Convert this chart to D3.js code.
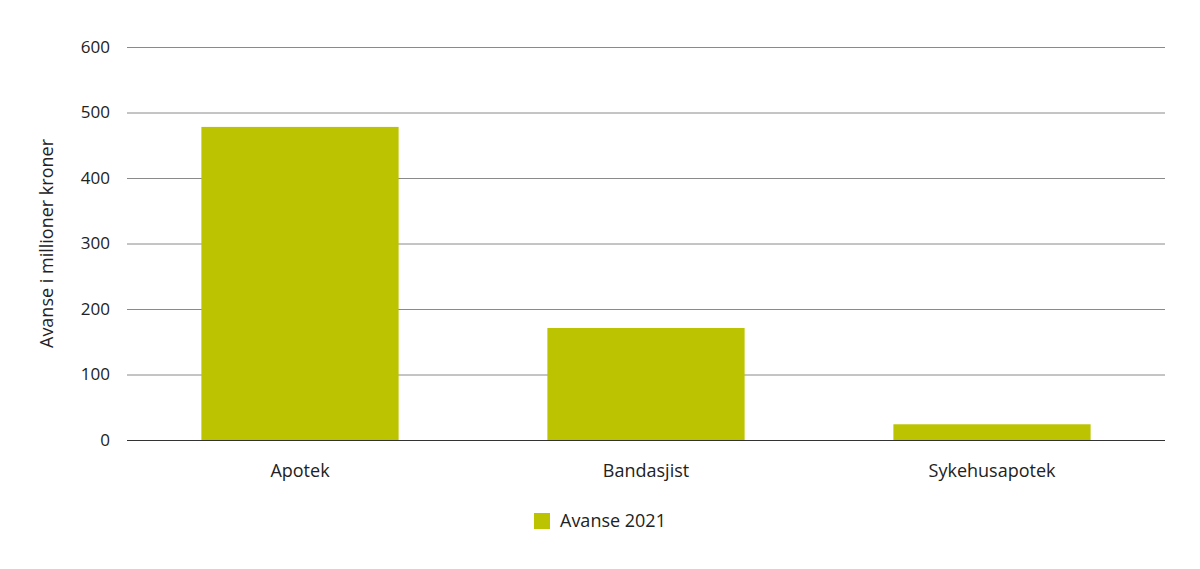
<!DOCTYPE html>
<html>
<head>
<meta charset="utf-8">
<script src="https://cdn.jsdelivr.net/npm/d3@7"></script>
<style>
  body { margin: 0; background: #fff; }
  svg { display: block; font-family: "Open Sans", "Noto Sans", sans-serif; }
</style>
</head>
<body>
<svg width="1200" height="569"></svg>
<script>
// data
var categories = ["Apotek", "Bandasjist", "Sykehusapotek"];
var values = [478, 171, 24];
var yTicks = [0, 100, 200, 300, 400, 500, 600];
var seriesName = "Avanse 2021";
var yLabel = "Avanse i millioner kroner";

var svg = d3.select("svg");
var plotLeft = 127, plotRight = 1165, plotTop = 47, plotBottom = 440;
var barColor = "rgb(188,195,0)";

var x = d3.scaleBand()
  .domain(categories)
  .range([plotLeft, plotRight])
  .paddingInner(0.43)
  .paddingOuter(0.215);

var y = d3.scaleLinear()
  .domain([0, 600])
  .range([plotBottom, plotTop]);

/* gridlines */
svg.append("g")
  .selectAll("line")
  .data(yTicks)
  .enter()
  .append("line")
  .attr("x1", plotLeft)
  .attr("x2", plotRight)
  .attr("y1", function(d) { return y(d) + 0.5; })
  .attr("y2", function(d) { return y(d) + 0.5; })
  .attr("stroke", function(d) { return d === 0 ? "#333" : "#8a8a8a"; })
  .attr("stroke-width", 1);

/* y tick labels */
svg.append("g")
  .selectAll("text")
  .data(yTicks)
  .enter()
  .append("text")
  .attr("x", 110)
  .attr("y", function(d) { return y(d); })
  .attr("dy", "0.35em")
  .attr("text-anchor", "end")
  .attr("font-size", 17)
  .attr("fill", "#222")
  .text(function(d) { return d; });

/* bars */
svg.append("g")
  .selectAll("rect")
  .data(values)
  .enter()
  .append("rect")
  .attr("x", function(d, i) { return x(categories[i]); })
  .attr("width", x.bandwidth())
  .attr("y", function(d) { return y(d); })
  .attr("height", function(d) { return y(0) - y(d); })
  .attr("fill", barColor);

/* x labels */
svg.append("g")
  .selectAll("text")
  .data(categories)
  .enter()
  .append("text")
  .attr("x", function(d) { return x(d) + x.bandwidth() / 2; })
  .attr("y", 477)
  .attr("text-anchor", "middle")
  .attr("font-size", 18)
  .attr("fill", "#222")
  .text(function(d) { return d; });

/* y axis title */
svg.append("text")
  .attr("transform", "translate(53," + ((plotTop + plotBottom) / 2) + ") rotate(-90)")
  .attr("text-anchor", "middle")
  .attr("font-size", 18)
  .attr("fill", "#222")
  .text(yLabel);

/* legend */
var legend = svg.append("g").attr("transform", "translate(534,513)");
legend.append("rect")
  .attr("width", 16)
  .attr("height", 16)
  .attr("fill", barColor);
legend.append("text")
  .attr("x", 26)
  .attr("y", 8)
  .attr("dy", "0.35em")
  .attr("font-size", 18)
  .attr("fill", "#222")
  .text(seriesName);
</script>
</body>
</html>
